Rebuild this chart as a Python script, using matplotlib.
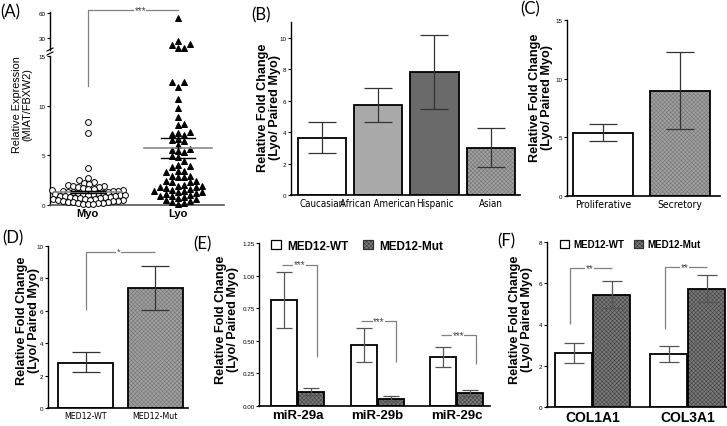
import numpy as np
import matplotlib
matplotlib.use('Agg')
import matplotlib.pyplot as plt
from matplotlib.lines import Line2D
from matplotlib.patches import Patch

# ---------------- data ----------------
a_groups = ['Myo', 'Lyo']
myo = [8.4, 7.2, 3.7, 2.7, 2.5, 2.3, 2.2, 2.1, 2.0, 1.95, 1.9, 1.8, 1.8, 1.7, 1.6, 1.6,
       1.5, 1.5, 1.45, 1.4, 1.4, 1.35, 1.3, 1.3, 1.25, 1.2, 1.2, 1.15, 1.1, 1.1, 1.05,
       1.0, 1.0, 0.95, 0.9, 0.9, 0.85, 0.8, 0.8, 0.75, 0.7, 0.7, 0.65, 0.6, 0.6, 0.55,
       0.5, 0.5, 0.45, 0.4, 0.4, 0.35, 0.3, 0.3, 0.25, 0.2, 0.2, 0.15, 0.1, 0.1]
lyo = [53.5, 26.5, 21.7, 20.5, 17.7, 17.2,
       12.4, 12.4, 11.9, 10.7, 9.8, 8.9, 8.2, 8.1, 7.3, 7.2, 7.1, 7.0, 6.6, 6.5, 6.4,
       6.0, 5.6, 5.5, 5.4, 5.3, 4.9, 4.8, 4.4, 4.0, 3.9, 3.8, 3.4, 3.4, 3.3, 2.9, 2.9,
       2.8, 2.8, 2.4, 2.4, 2.3, 2.3, 2.0, 1.9, 1.9, 1.8, 1.8, 1.7, 1.6, 1.5, 1.4, 1.4,
       1.3, 1.3, 1.2, 1.1, 1.0, 0.9, 0.9, 0.8, 0.7, 0.6, 0.5, 0.4, 0.3, 0.2, 0.1]
a_mean = [1.28, 5.75]
a_sem = [0.12, 1.0]

b_cats = ['Caucasian', 'African American', 'Hispanic', 'Asian']
b_vals = [3.65, 5.7, 7.82, 3.0]
b_lo = [2.7, 4.65, 5.5, 1.8]
b_hi = [4.62, 6.8, 10.2, 4.28]

c_cats = ['Proliferative', 'Secretory']
c_vals = [5.35, 8.95]
c_lo = [4.65, 5.75]
c_hi = [6.15, 12.25]

d_cats = ['MED12-WT', 'MED12-Mut']
d_vals = [2.8, 7.4]
d_lo = [2.2, 6.05]
d_hi = [3.47, 8.78]

e_cats = ['miR-29a', 'miR-29b', 'miR-29c']
e_wt = [0.81, 0.465, 0.375]
e_wt_lo = [0.595, 0.34, 0.30]
e_wt_hi = [1.03, 0.595, 0.45]
e_mut = [0.11, 0.055, 0.10]
e_mut_lo = [0.085, 0.035, 0.08]
e_mut_hi = [0.14, 0.075, 0.12]

f_cats = ['COL1A1', 'COL3A1']
f_wt = [2.6, 2.55]
f_wt_lo = [2.15, 2.17]
f_wt_hi = [3.08, 2.97]
f_mut = [5.42, 5.73]
f_mut_lo = [4.78, 5.1]
f_mut_hi = [6.12, 6.42]

series_names = ['MED12-WT', 'MED12-Mut']

# ---------------- setup ----------------
plt.rcParams['font.family'] = ['Liberation Sans', 'DejaVu Sans']
plt.rcParams['hatch.linewidth'] = 0.35
COND = dict(family='DejaVu Sans', fontstretch='condensed')
LETTER = ['Lato', 'DejaVu Sans']

W, H = 727, 427
fig = plt.figure(figsize=(W / 100, H / 100), dpi=100)


def rect(x0, y0, x1, y1):
    return [x0 / W, 1 - y1 / H, (x1 - x0) / W, (y1 - y0) / H]


def style(ax, ylim, yticks, labels=None):
    for s in ['top', 'right']:
        ax.spines[s].set_visible(False)
    ax.spines['left'].set_linewidth(1.0)
    ax.spines['bottom'].set_linewidth(1.2)
    ax.set_ylim(*ylim)
    ax.set_yticks(yticks)
    if labels is not None:
        ax.set_yticklabels(labels)
    ax.tick_params(axis='y', length=2.2, width=0.8, labelsize=4.5, pad=1)
    ax.tick_params(axis='x', length=0, pad=2)


def bars(ax, x, h, w, face, hatch=None, hcolor=None):
    if hatch:
        ax.bar(x, h, w, color=face, edgecolor=hcolor, linewidth=0, hatch=hatch, zorder=2)
        ax.bar(x, h, w, fill=False, edgecolor='black', linewidth=1.3, zorder=3)
    else:
        ax.bar(x, h, w, color=face, edgecolor='black', linewidth=1.3, zorder=2)


def errs(ax, x, v, lo, hi, cap, color='#333333'):
    v = np.asarray(v); lo = np.asarray(lo); hi = np.asarray(hi)
    ax.errorbar(x, v, yerr=[v - lo, hi - v], fmt='none', ecolor=color,
                elinewidth=0.9, capsize=cap, capthick=0.9, zorder=4)


def ylab(x, y, text, size=9.1, weight='bold'):
    fig.text(x / W, 1 - y / H, text, rotation=90, ha='center', va='center',
             fontsize=size, fontweight=weight, linespacing=1.05)


def letter(x, y, t):
    fig.text(x / W, 1 - y / H, t, ha='left', va='center', fontsize=12, family=LETTER)


def star_text(ax, x, y, t, size=7):
    ax.text(x, y, t, ha='center', va='center', fontsize=size, color='#444444',
            bbox=dict(facecolor='white', edgecolor='none', pad=0.3), zorder=6)


BR = dict(color='#808080', lw=0.9, zorder=5, solid_capstyle='butt')
HATCH = 'xxxxxxxx'

# ---------------- Panel A ----------------
axA = fig.add_axes(rect(50, 57, 224, 206))
axAt = fig.add_axes(rect(50, 13, 224, 51))
xA = np.arange(len(a_groups))
for ax in (axA, axAt):
    ax.set_xlim(-0.42, 1.51)
style(axA, (0, 15), [0, 5, 10, 15])
style(axAt, (15, 61), [30, 60])
axAt.spines['bottom'].set_visible(False)
axAt.set_xticks([])
axA.set_xticks(xA, a_groups, fontsize=8, fontweight='bold')
axA.spines['bottom'].set_color('#555555')


def swarm(ax, xc, vals, wx, wy, rectangular):
    vals = np.asarray(vals, float)
    pts = ax.transData.transform(np.column_stack([np.full(len(vals), xc), vals]))
    ys = pts[:, 1]
    ppu = ax.transData.transform((1, 0))[0] - ax.transData.transform((0, 0))[0]
    order = np.argsort(ys)
    placed = []
    offs = np.zeros(len(vals))
    cands = [0.0]
    for k in range(1, 300):
        cands += [k * 0.5, -k * 0.5]
    for i in order:
        y = ys[i]
        for c in cands:
            ok = True
            for (px, py) in placed:
                if rectangular:
                    hit = abs(px - c) < wx and abs(py - y) < wy
                else:
                    hit = (px - c) ** 2 + (py - y) ** 2 < wx ** 2
                if hit:
                    ok = False
                    break
            if ok:
                offs[i] = c
                placed.append((c, y))
                break
    return xc + offs / ppu


def draw_group(xc, vals, marker, face, ms, wx, wy, rectangular):
    vals = np.asarray(vals, float)
    lo = vals[vals <= 15]
    hi = vals[vals > 15]
    if len(lo):
        axA.plot(swarm(axA, xc, lo, wx, wy, rectangular), lo, ls='none', marker=marker,
                 mfc=face, mec='black', mew=0.7, ms=ms, zorder=3, clip_on=False)
    if len(hi):
        axAt.plot(swarm(axAt, xc, hi, wx, wy, rectangular), hi, ls='none', marker=marker,
                  mfc=face, mec='black', mew=0.7, ms=ms, zorder=3, clip_on=False)


draw_group(xA[0], myo, 'o', 'white', 4.2, 5.0, 5.0, False)
draw_group(xA[1], lyo, '^', 'black', 4.6, 5.8, 5.5, True)

# mean / sem lines
for xi, m, s in zip(xA, a_mean, a_sem):
    axA.plot([xi - 0.38, xi + 0.38], [m, m], color='#8a8a8a', lw=1.2, zorder=4)
    axA.plot([xi - 0.19, xi + 0.19], [m + s, m + s], color='black', lw=1.0, zorder=4)
    axA.plot([xi - 0.19, xi + 0.19], [m - s, m - s], color='black', lw=1.0, zorder=4)
    axA.plot([xi, xi], [m - s, m + s], color='black', lw=1.0, zorder=4)

# significance bracket spanning the broken axis
inv = fig.transFigure.inverted()
p0 = inv.transform(axA.transData.transform((xA[0], 12)))
p1 = inv.transform(axAt.transData.transform((xA[0], 63.5)))
p2 = inv.transform(axAt.transData.transform((xA[1], 63.5)))
fig.add_artist(Line2D([p0[0], p1[0], p2[0]], [p0[1], p1[1], p2[1]], color='#808080', lw=0.9))
pm = inv.transform(axAt.transData.transform((0.58, 63.5)))
fig.text(pm[0], pm[1], '***', ha='center', va='center', fontsize=7, color='#444444',
         bbox=dict(facecolor='white', edgecolor='none', pad=0.3))

# axis break marks
for yy in (50.5, 54.5):
    fig.add_artist(Line2D([47 / W, 53 / W], [1 - (yy + 1.5) / H, 1 - (yy - 1.5) / H],
                          color='black', lw=0.8))

ylab(22, 105, 'Relative Expression\n(MIAT/FBXW2)', size=7.8, weight='normal')
letter(0, 12, '(A)')

# ---------------- Panel B ----------------
axB = fig.add_axes(rect(291, 23, 520, 196))
style(axB, (0, 11), [0, 2, 4, 6, 8, 10])
xB = np.arange(len(b_cats))
axB.set_xlim(-0.55, 3.52)
faces = ['white', '#a9a9a9', '#6a6a6a']
for i in range(3):
    bars(axB, xB[i], b_vals[i], 0.857, faces[i])
bars(axB, xB[3], b_vals[3], 0.857, '#a0a0a0', hatch=HATCH, hcolor='#707070')
errs(axB, xB, b_vals, b_lo, b_hi, cap=10)
axB.set_xticks(xB, b_cats, fontsize=7.0, **COND)
ylab(269, 108, 'Relative Fold Change\n(Lyo/ Paired Myo)')
letter(251, 15, '(B)')

# ---------------- Panel C ----------------
axC = fig.add_axes(rect(567, 21, 720, 197))
style(axC, (0, 15), [0, 5, 10, 15])
xC = np.arange(len(c_cats))
axC.set_xlim(-0.47, 1.52)
bars(axC, xC[0], c_vals[0], 0.78, 'white')
bars(axC, xC[1], c_vals[1], 0.78, '#a0a0a0', hatch=HATCH, hcolor='#707070')
errs(axC, xC, c_vals, c_lo, c_hi, cap=10)
axC.set_xticks(xC, c_cats, fontsize=7.5, **COND)
ylab(541, 98, 'Relative Fold Change\n(Lyo/ Paired Myo)')
letter(520, 9, '(C)')

# ---------------- Panel D ----------------
axD = fig.add_axes(rect(48, 247, 188, 409))
style(axD, (0, 10), [0, 2, 4, 6, 8, 10])
xD = np.arange(len(d_cats))
axD.set_xlim(-0.54, 1.47)
bars(axD, xD[0], d_vals[0], 0.79, 'white')
bars(axD, xD[1], d_vals[1], 0.79, '#a0a0a0', hatch=HATCH, hcolor='#707070')
errs(axD, xD, d_vals, d_lo, d_hi, cap=10)
axD.set_xticks(xD, d_cats, fontsize=6.3, **COND)
axD.plot([xD[0], xD[0], xD[1]], [6.07, 9.65, 9.65], clip_on=False, **BR)
star_text(axD, 0.47, 9.65, '*', size=6.5)
ylab(28, 321, 'Relative Fold Change\n(Lyo/ Paired Myo)')
letter(2, 238, '(D)')

# ---------------- Panel E ----------------
axE = fig.add_axes(rect(259, 244, 490, 407))
style(axE, (0, 1.25), [0, 0.25, 0.5, 0.75, 1.0, 1.25],
      ['0.00', '0.25', '0.50', '0.75', '1.00', '1.25'])
xE = np.arange(len(e_cats))
axE.set_xlim(-0.49, 2.42)
bw = 0.33
bars(axE, xE - 0.17, e_wt, bw, 'white')
bars(axE, xE + 0.17, e_mut, bw, '#7a7a7a', hatch=HATCH, hcolor='#3a3a3a')
errs(axE, xE - 0.17, e_wt, e_wt_lo, e_wt_hi, cap=5.5, color='#555555')
errs(axE, xE + 0.17, e_mut, e_mut_lo, e_mut_hi, cap=5.5, color='#555555')
axE.set_xticks(xE, e_cats, fontsize=9.5, fontweight='bold')
e_br_y = [1.085, 0.655, 0.545]
e_br_low = [0.375, 0.34, 0.32]
for i in range(3):
    axE.plot([xE[i] - 0.2, xE[i] + 0.24, xE[i] + 0.24], [e_br_y[i], e_br_y[i], e_br_low[i]], **BR)
    star_text(axE, xE[i] + 0.02, e_br_y[i], '***')
hE = [Patch(facecolor='white', edgecolor='black', lw=0.9),
      Patch(facecolor='#7a7a7a', edgecolor='#333333', hatch=HATCH, lw=0.9)]
axE.legend(hE, series_names, ncol=2, loc='upper left', bbox_to_anchor=(0.03, 1.05),
           frameon=False, prop=dict(weight='bold', size=8.5), handlelength=0.9,
           handleheight=0.9, handletextpad=0.5, columnspacing=1.2, borderaxespad=0)
ylab(227, 320, 'Relative Fold Change\n(Lyo/ Paired Myo)')
letter(193, 244, '(E)')

# ---------------- Panel F ----------------
axF = fig.add_axes(rect(547, 243, 727, 408))
style(axF, (0, 8), [0, 2, 4, 6, 8])
xF = np.arange(len(f_cats))
axF.set_xlim(-0.48, 1.415)
bars(axF, xF - 0.2, f_wt, 0.39, 'white')
bars(axF, xF + 0.2, f_mut, 0.39, '#7a7a7a', hatch=HATCH, hcolor='#3a3a3a')
errs(axF, xF - 0.2, f_wt, f_wt_lo, f_wt_hi, cap=7, color='#555555')
errs(axF, xF + 0.2, f_mut, f_mut_lo, f_mut_hi, cap=7, color='#555555')
axF.set_xticks(xF, f_cats, fontsize=10, fontweight='bold')
f_br_low = [4.03, 3.79]
f_br_y = [6.73, 6.8]
for i in range(2):
    axF.plot([xF[i] - 0.24, xF[i] - 0.24, xF[i] + 0.2], [f_br_low[i], f_br_y[i], f_br_y[i]], **BR)
    star_text(axF, xF[i] - 0.03, f_br_y[i], '**')
hF = [Patch(facecolor='white', edgecolor='black', lw=0.9),
      Patch(facecolor='#7a7a7a', edgecolor='#333333', hatch=HATCH, lw=0.9)]
axF.legend(hF, series_names, ncol=2, loc='upper left', bbox_to_anchor=(0.05, 1.04),
           frameon=False, prop=dict(weight='bold', size=7), handlelength=0.9,
           handleheight=0.8, handletextpad=0.5, columnspacing=1.0, borderaxespad=0)
ylab(521, 320, 'Relative Fold Change\n(Lyo/ Paired Myo)')
letter(497, 241, '(F)')

fig.savefig('out.png', dpi=100)
